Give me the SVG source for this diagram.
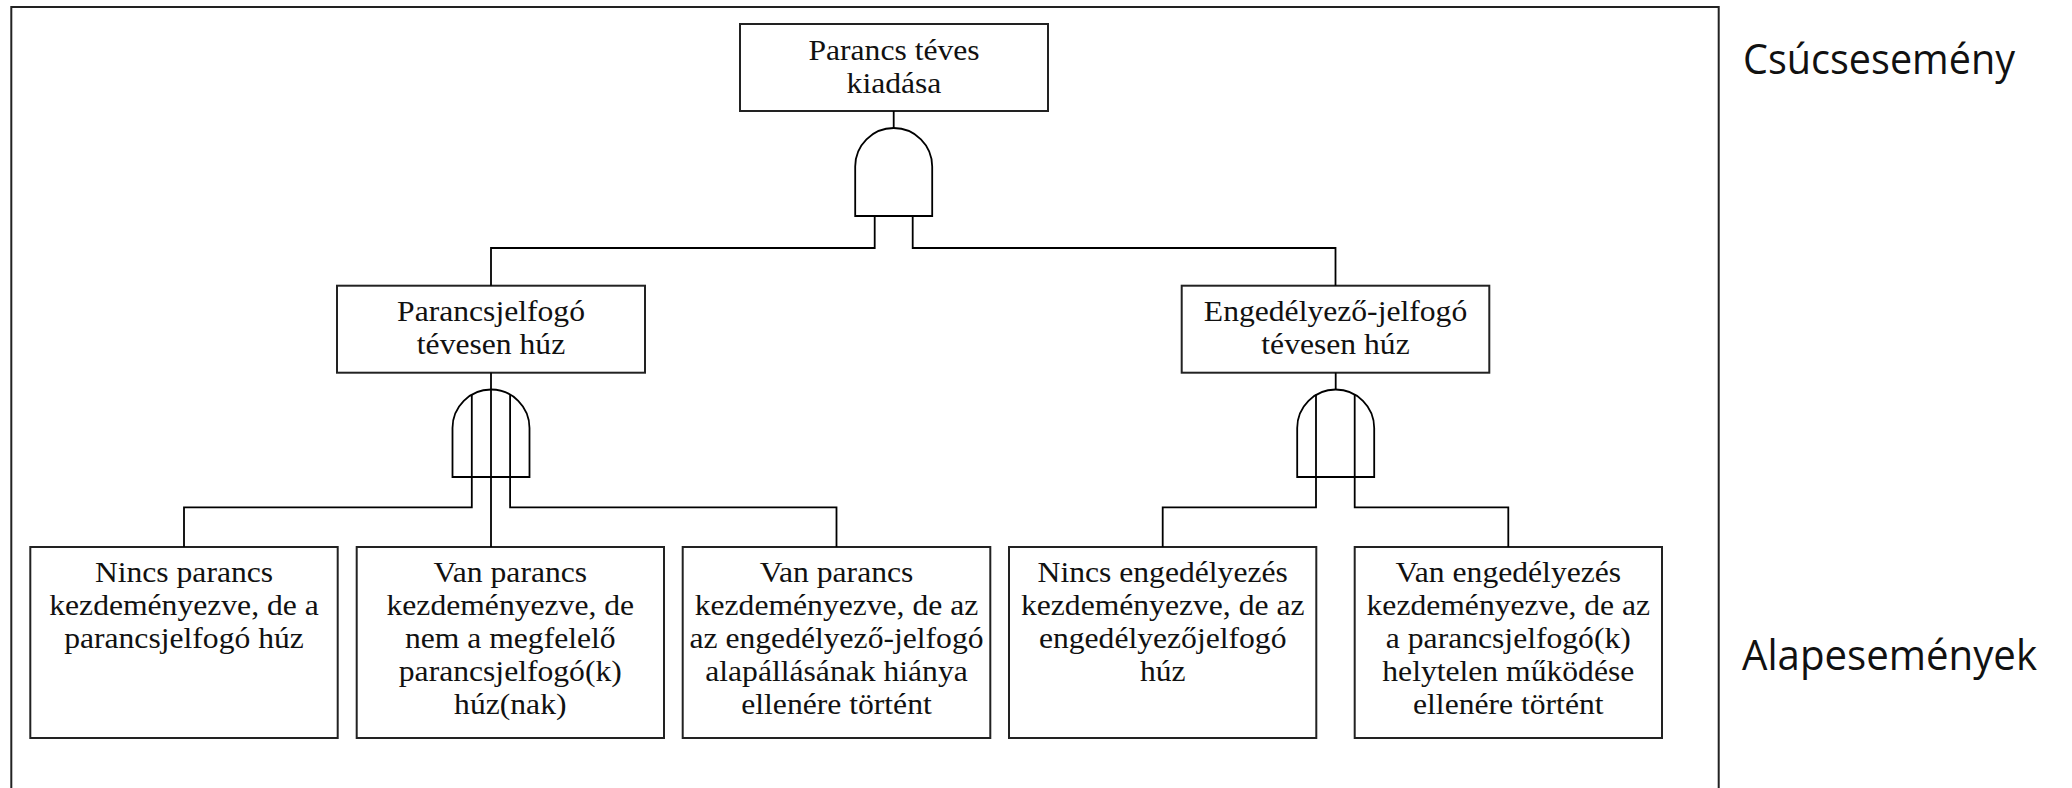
<svg xmlns="http://www.w3.org/2000/svg" width="2072" height="788" viewBox="0 0 2072 788">
<style>
.box{fill:#fff;stroke:#222;stroke-width:2}
.gate{fill:none;stroke:#000;stroke-width:1.8}
.ln{fill:none;stroke:#000;stroke-width:1.8}
.frame{fill:none;stroke:#222;stroke-width:2}
.t{font-family:"Liberation Serif","Times New Roman",serif;font-size:28.5px;fill:#111;text-anchor:middle}
.lab{font-family:"Open Sans","Noto Sans",sans-serif;font-size:42px;fill:#111}
</style>
<rect class="frame" x="11.3" y="7" width="1707.4" height="800"/>
<g id="top">
<rect class="box" x="740" y="24" width="308" height="87"/>
<g transform="translate(894,0) scale(1.11,1)"><text class="t" x="0" y="60">Parancs téves</text><text class="t" x="0" y="93">kiadása</text></g>
</g>
<g id="gate-top"><path class="gate" d="M855.2 216 V166.5 A38.5 38.5 0 0 1 932.2 166.5 V216 Z"/></g>
<g id="mid-left">
<rect class="box" x="337" y="285.7" width="308" height="87"/>
<g transform="translate(491,0) scale(1.11,1)"><text class="t" x="0" y="321">Parancsjelfogó</text><text class="t" x="0" y="354">tévesen húz</text></g>
</g>
<g id="mid-right">
<rect class="box" x="1181.7" y="285.7" width="307.6" height="87"/>
<g transform="translate(1335.5,0) scale(1.11,1)"><text class="t" x="0" y="321">Engedélyező-jelfogó</text><text class="t" x="0" y="354">tévesen húz</text></g>
</g>
<g id="gate-left"><path class="gate" d="M452.5 477 V428 A38.5 38.5 0 0 1 529.5 428 V477 Z"/></g>
<g id="gate-right"><path class="gate" d="M1297.2 477 V428 A38.5 38.5 0 0 1 1374.2 428 V477 Z"/></g>
<g id="b1">
<rect class="box" x="30.3" y="547" width="307.4" height="191"/>
<g transform="translate(184,0) scale(1.11,1)"><text class="t" x="0" y="582">Nincs parancs</text><text class="t" x="0" y="615">kezdeményezve, de a</text><text class="t" x="0" y="648">parancsjelfogó húz</text></g>
</g>
<g id="b2">
<rect class="box" x="356.7" y="547" width="307.3" height="191"/>
<g transform="translate(510.3,0) scale(1.11,1)"><text class="t" x="0" y="582">Van parancs</text><text class="t" x="0" y="615">kezdeményezve, de</text><text class="t" x="0" y="648">nem a megfelelő</text><text class="t" x="0" y="681">parancsjelfogó(k)</text><text class="t" x="0" y="714">húz(nak)</text></g>
</g>
<g id="b3">
<rect class="box" x="682.7" y="547" width="307.6" height="191"/>
<g transform="translate(836.5,0) scale(1.11,1)"><text class="t" x="0" y="582">Van parancs</text><text class="t" x="0" y="615">kezdeményezve, de az</text><text class="t" x="0" y="648">az engedélyező-jelfogó</text><text class="t" x="0" y="681">alapállásának hiánya</text><text class="t" x="0" y="714">ellenére történt</text></g>
</g>
<g id="b4">
<rect class="box" x="1009" y="547" width="307.3" height="191"/>
<g transform="translate(1162.7,0) scale(1.11,1)"><text class="t" x="0" y="582">Nincs engedélyezés</text><text class="t" x="0" y="615">kezdeményezve, de az</text><text class="t" x="0" y="648">engedélyezőjelfogó</text><text class="t" x="0" y="681">húz</text></g>
</g>
<g id="b5">
<rect class="box" x="1354.7" y="547" width="307.3" height="191"/>
<g transform="translate(1508.3,0) scale(1.11,1)"><text class="t" x="0" y="582">Van engedélyezés</text><text class="t" x="0" y="615">kezdeményezve, de az</text><text class="t" x="0" y="648">a parancsjelfogó(k)</text><text class="t" x="0" y="681">helytelen működése</text><text class="t" x="0" y="714">ellenére történt</text></g>
</g>
<g id="connectors">
<path class="ln" d="M893.7 111 V128"/>
<path class="ln" d="M874.7 216 V248 H491 V285.7"/>
<path class="ln" d="M912.7 216 V248 H1335.5 V285.7"/>
<path class="ln" d="M491 372.7 V547"/>
<path class="ln" d="M471.8 394.6 V507.3 H184 V547"/>
<path class="ln" d="M510.1 394.6 V507.3 H836.5 V547"/>
<path class="ln" d="M1335.7 372.7 V389.5"/>
<path class="ln" d="M1316 394.6 V507.3 H1162.7 V547"/>
<path class="ln" d="M1354.7 394.6 V507.3 H1508.3 V547"/>
</g>
<g id="labels">
<text class="lab" x="1743" y="74" textLength="272" lengthAdjust="spacingAndGlyphs">Csúcsesemény</text>
<text class="lab" x="1742" y="670" textLength="295" lengthAdjust="spacingAndGlyphs">Alapesemények</text>
</g>
</svg>
